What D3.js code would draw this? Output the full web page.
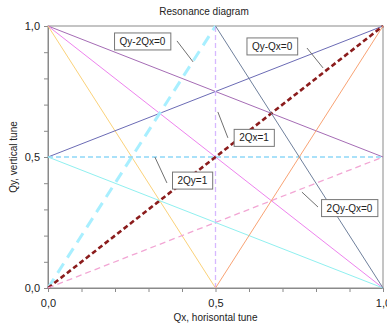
<!DOCTYPE html>
<html>
<head>
<meta charset="utf-8">
<script src="https://cdn.jsdelivr.net/npm/d3@7"></script>
<style>
  body { margin: 0; background: #fff; }
  svg { font-family: "Liberation Sans", Arial, sans-serif; }
</style>
</head>
<body>
<div id="chart"></div>
<script>
// resonance lines: [x1, y1, x2, y2]
const lineNames = ['Qy+Qx/2=1', 'Qx+Qy=1', '2Qx+Qy=1', '2Qy-Qx=1', 'Qy-2Qx=0', '2Qx=1',
                   '2Qy=1', 'Qy-Qx=0', '2Qy-Qx=0', '2Qy+Qx=1', '2Qx+Qy=2', '2Qx-Qy=1'];
const lineEnds = [
  [0, 1, 1, 0.5], [0, 1, 1, 0], [0, 1, 0.5, 0], [0, 0.5, 1, 1],
  [0, 0, 0.5, 1], [0.5, 0, 0.5, 1], [0, 0.5, 1, 0.5], [0, 0, 1, 1],
  [0, 0, 1, 0.5], [0, 0.5, 1, 0], [0.5, 1, 1, 0], [0.5, 0, 1, 1]
];
const lineColors = ['#a56cb5', '#ee82ee', '#fbd27a', '#6b6bb5', '#a8efff', '#d6b8ff',
                    '#8ed8f8', '#8b1c1c', '#f2a6d4', '#90f0f0', '#6f809c', '#f9a374'];
const lineWidths = [1, 1, 1, 1, 3, 1.3, 1.3, 2.6, 1.3, 1, 1, 1];
const lineDash = [null, null, null, null, '11,7', '5,3', '5,3', '5,3', '6,4', null, null, null];

// labels: text, box centre, leader line
const labelText = ['Qy-2Qx=0', 'Qy-Qx=0', '2Qx=1', '2Qy=1', '2Qy-Qx=0'];
const labelPos = [[0.282, 0.941], [0.669, 0.922], [0.615, 0.573], [0.431, 0.410], [0.900, 0.305]];
const leaders = [
  [0.385, 0.943, 0.433, 0.863], [0.773, 0.916, 0.821, 0.840], [0.507, 0.672, 0.537, 0.573],
  [0.319, 0.500, 0.355, 0.401], [0.758, 0.366, 0.806, 0.309]
];

const tickMajor = [0, 0.5, 1];
const tickLabels = ['0,0', '0,5', '1,0'];

const W = 387, H = 325;
const margin = {top: 26, right: 4, bottom: 37, left: 48};

const svg = d3.select('#chart').append('svg').attr('width', W).attr('height', H);
const x = d3.scaleLinear().domain([0, 1]).range([margin.left, W - margin.right]);
const y = d3.scaleLinear().domain([0, 1]).range([H - margin.bottom, margin.top]);

// frame
svg.append('rect')
  .attr('x', x(0)).attr('y', y(1))
  .attr('width', x(1) - x(0)).attr('height', y(0) - y(1))
  .attr('fill', 'none').attr('stroke', '#8a8a8a').attr('stroke-width', 1);

const fmt = d => { let i = tickMajor.findIndex(t => Math.abs(t - d) < 1e-6); return i < 0 ? '' : tickLabels[i]; };
const xAxis = d3.axisBottom(x).tickValues(d3.range(0, 1.01, 0.1)).tickSize(4).tickFormat(fmt);
const yAxis = d3.axisLeft(y).tickValues(d3.range(0, 1.01, 0.1)).tickSize(4).tickFormat(fmt);

const gx = svg.append('g').attr('transform', `translate(0,${y(0)})`).call(xAxis);
gx.selectAll('text').attr('dy', '1.05em');
const gy = svg.append('g').attr('transform', `translate(${x(0)},0)`).call(yAxis);
gy.selectAll('text').attr('x', -8);
[gx, gy].forEach(g => {
  g.select('.domain').attr('stroke', '#8a8a8a');
  g.selectAll('line').attr('stroke', '#8a8a8a');
  g.selectAll('text').attr('font-size', 11).attr('fill', '#222').attr('font-family', '"Liberation Sans", Arial, sans-serif');
});

// resonance lines
svg.append('g').selectAll('line')
  .data(lineEnds)
  .enter().append('line')
  .attr('x1', d => x(d[0])).attr('y1', d => y(d[1]))
  .attr('x2', d => x(d[2])).attr('y2', d => y(d[3]))
  .attr('stroke', (d, i) => lineColors[i])
  .attr('stroke-width', (d, i) => lineWidths[i])
  .attr('stroke-dasharray', (d, i) => lineDash[i]);

// leader lines
svg.append('g').selectAll('line')
  .data(leaders)
  .enter().append('line')
  .attr('x1', d => x(d[0])).attr('y1', d => y(d[1]))
  .attr('x2', d => x(d[2])).attr('y2', d => y(d[3]))
  .attr('stroke', '#707070').attr('stroke-width', 1);

// label boxes
const lab = svg.append('g').selectAll('g')
  .data(labelText)
  .enter().append('g')
  .attr('transform', (d, i) => `translate(${x(labelPos[i][0])},${y(labelPos[i][1])})`);
lab.append('rect').attr('fill', '#fff').attr('stroke', '#777').attr('stroke-width', 1);
lab.append('text')
  .attr('text-anchor', 'middle').attr('dy', '0.35em')
  .attr('font-size', 10).attr('fill', '#222')
  .text(d => d);
lab.each(function() {
  const g = d3.select(this);
  const bb = g.select('text').node().getBBox();
  g.select('rect')
    .attr('x', bb.x - 5).attr('y', -8.5)
    .attr('width', bb.width + 10).attr('height', 17);
});

// titles
svg.append('text').attr('x', 204).attr('y', 15).attr('text-anchor', 'middle')
  .attr('font-size', 10).attr('fill', '#222').text('Resonance diagram');
svg.append('text').attr('x', (x(0) + x(1)) / 2).attr('y', 321).attr('text-anchor', 'middle')
  .attr('font-size', 10).attr('fill', '#222').text('Qx, horisontal tune');
svg.append('text').attr('transform', `translate(17,${(y(0) + y(1)) / 2}) rotate(-90)`)
  .attr('text-anchor', 'middle')
  .attr('font-size', 10).attr('fill', '#222').text('Qy, vertical tune');
</script>
</body>
</html>
